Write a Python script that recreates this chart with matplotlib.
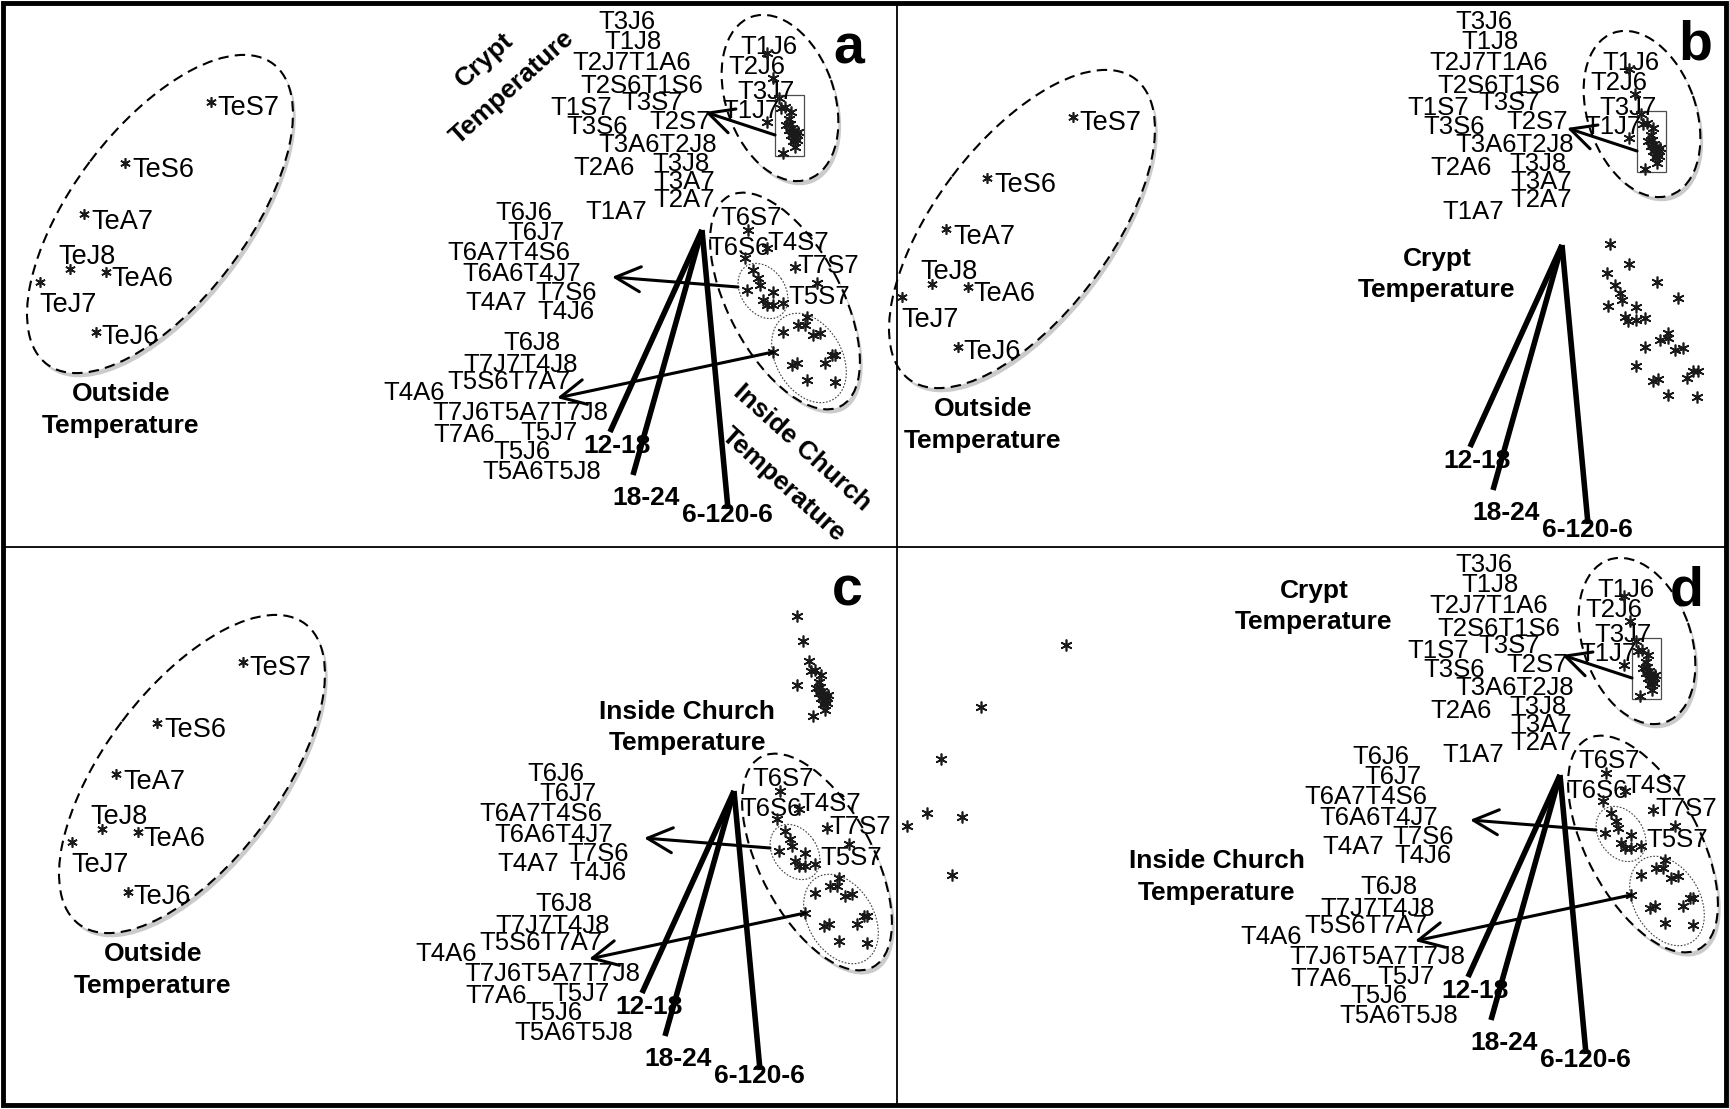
import matplotlib
matplotlib.use("Agg")
import matplotlib.pyplot as plt
import matplotlib.patheffects as pe
from matplotlib.patches import Ellipse, Rectangle

plt.rcParams['font.family'] = ['Liberation Sans', 'DejaVu Sans']

W, H = 1729, 1109
REG = 18.5
TE = 19.5
BOLD = 19

# ---- outside temperature scores (as placed in panel a, pixel coords)
te_names = ["TeS7", "TeS6", "TeA7", "TeJ8", "TeA6", "TeJ7", "TeJ6"]
te_x = [211, 125, 84, 70, 106, 40, 96]
te_y = [102, 163, 214, 269, 272, 282, 332]
te_lab_x = [217, 132, 91, 58, 111, 39, 101]
te_lab_y = [108, 170, 222, 257, 279, 305, 337]

# ---- crypt temperature labels (panel a)
crypt_names = ["T3J6", "T1J8", "T2J7T1A6", "T2S6T1S6", "T1S7", "T3S7", "T3S6", "T2S7",
               "T3A6T2J8", "T2A6", "T3J8", "T3A7", "T2A7", "T1A7"]
crypt_lab_x = [598, 604, 572, 580, 550, 621, 566, 649, 598, 573, 652, 653, 653, 585]
crypt_lab_y = [22, 42, 63, 86, 108, 103, 127, 122, 145, 168, 164, 182, 200, 212]

# crypt cluster (points + names inside the ellipse)
crypt_in_names = ["T1J6", "T2J6", "T3J7", "T1J7"]
crypt_in_x = [740, 728, 737, 722]
crypt_in_y = [47, 67, 92, 111]
crypt_x = [767, 773, 779, 781, 785, 791, 767, 786, 790, 789, 792, 794, 796, 798, 791,
           795, 793, 797, 795, 783, 789]
crypt_y = [53, 78, 98, 108, 107, 112, 122, 125, 124, 130, 128, 131, 134, 132, 135,
           138, 141, 140, 147, 153, 119]

# ---- inside church labels (panel a)
church_names = ["T6J6", "T6J7", "T6A7T4S6", "T6A6T4J7", "T4A7", "T7S6", "T4J6", "T6J8",
                "T7J7T4J8", "T5S6T7A7", "T4A6", "T7J6T5A7T7J8", "T7A6", "T5J7", "T5J6",
                "T5A6T5J8"]
church_lab_x = [495, 507, 447, 462, 465, 535, 537, 503, 463, 447, 383, 432, 433, 520, 493, 482]
church_lab_y = [213, 233, 253, 274, 303, 293, 312, 343, 365, 382, 393, 413, 435, 433, 452, 472]

church_in_names = ["T6S7", "T6S6", "T4S7", "T7S7", "T5S7"]
church_in_x = [720, 708, 767, 797, 788]
church_in_y = [218, 248, 243, 266, 297]
church_x = [753, 758, 760, 747, 773, 763, 767, 773, 783, 748, 745, 767, 795, 817,
            807, 798, 805, 783, 813, 820, 773, 832, 835, 792, 797, 825, 807, 835]
church_y = [270, 278, 285, 290, 292, 300, 305, 305, 303, 230, 258, 248, 267, 283,
            317, 325, 325, 332, 335, 333, 352, 355, 355, 365, 363, 363, 380, 382]

# ---- time-window vectors (panel a)
vec_names = ["12-18", "18-24", "6-120-6"]
vec_origin = (702, 230)
vec_end_x = [610, 633, 728]
vec_end_y = [432, 475, 509]
vec_lab_x = [617, 646, 727]
vec_lab_y = [446, 498, 515]

# ---- panel b: inside church scores alone
b_church_x = [1610, 1629, 1607, 1657, 1615, 1620, 1622, 1678, 1608, 1636, 1625, 1628, 1636, 1645,
              1668, 1660, 1668, 1645, 1675, 1683, 1636, 1653, 1658, 1687, 1693, 1698, 1668, 1697]
b_church_y = [244, 264, 273, 282, 285, 293, 300, 298, 306, 307, 317, 321, 320, 318,
              333, 340, 338, 347, 350, 348, 366, 381, 379, 378, 371, 371, 395, 397]

# ---- panels c/d: outside temperature scores alone
cd_te_x = [1066, 981, 941, 927, 962, 907, 952]
cd_te_y = [645, 707, 759, 813, 817, 826, 875]

# where each group sits in each panel
outside_pos = [(0, 0), (862, 15), (32, 560)]
crypt_lab_pos = [(0, 0), (857, 0), (857, 543)]
crypt_grp_pos = [(0, 0), (862, 16), (857, 543)]
church_lab_pos = [(0, 0), (32, 561), (857, 544)]
church_grp_pos = [(0, 0), (32, 561), (858, 543)]
vec_pos = [(0, 0), (860, 15), (32, 561), (858, 545)]
crypt_pts_only_pos = [(30, 563)]

fig = plt.figure(figsize=(W / 100, H / 100), dpi=100)
ax = fig.add_axes([0, 0, 1, 1])
ax.set_xlim(0, W)
ax.set_ylim(H, 0)
ax.axis('off')

shadow = [pe.SimplePatchShadow(offset=(2, -3), shadow_rgbFace='0.55', alpha=0.45), pe.Normal()]


def stars(xs, ys, dx=0, dy=0, ms=8.5):
    ax.plot([x + dx for x in xs], [y + dy for y in ys], ls='none', marker=(6, 2, 0),
            ms=ms, mew=1.2, color='0.1', zorder=4)


def names(ns, xs, ys, dx=0, dy=0, size=REG):
    for n, x, y in zip(ns, xs, ys):
        ax.text(x + dx, y + dy, n, fontsize=size, ha='left', va='center', zorder=3)


def big_ellipse(cx, cy, w, h, ang, dx, dy):
    e = Ellipse((cx + dx, cy + dy), w, h, angle=ang, facecolor='white', edgecolor='k',
                lw=1.5, ls=(0, (5, 3)), zorder=1)
    e.set_path_effects(shadow)
    ax.add_patch(e)


def small_ellipse(cx, cy, w, h, ang, dx, dy):
    ax.add_patch(Ellipse((cx + dx, cy + dy), w, h, angle=ang, fill=False, edgecolor='0.25',
                         lw=0.8, ls=(0, (1.5, 1.5)), zorder=2))


def arrow(sx, sy, tx, ty, dx, dy):
    ax.annotate('', xy=(tx + dx, ty + dy), xytext=(sx + dx, sy + dy),
                arrowprops=dict(arrowstyle='->,head_length=0.9,head_width=0.45', lw=2.2,
                                color='k', shrinkA=0, shrinkB=0, mutation_scale=20),
                zorder=5)


def bold(x, y, s, rot=0):
    ax.text(x, y, s, fontsize=BOLD, fontweight='bold', ha='center', va='center',
            rotation=rot, rotation_mode='anchor', zorder=3)


# outside group
for dx, dy in outside_pos:
    big_ellipse(160, 214, 376, 175, -53, dx, dy)
    stars(te_x, te_y, dx, dy, ms=7.5)
    names(te_names, te_lab_x, te_lab_y, dx, dy, size=TE)
    bold(121 + dx, 394 + dy, "Outside")
    bold(121 + dx, 426 + dy, "Temperature")

# crypt labels
for dx, dy in crypt_lab_pos:
    names(crypt_names, crypt_lab_x, crypt_lab_y, dx, dy)

# crypt cluster
for dx, dy in crypt_grp_pos:
    big_ellipse(780, 98, 172, 108, 70.7, dx, dy)
    ax.add_patch(Rectangle((775 + dx, 95 + dy), 29, 61, fill=False, edgecolor='0.3',
                           lw=0.9, zorder=2))
    stars(crypt_x, crypt_y, dx, dy)
    names(crypt_in_names, crypt_in_x, crypt_in_y, dx, dy)
    arrow(775, 135, 705, 112, dx, dy)

for dx, dy in crypt_pts_only_pos:
    stars(crypt_x, crypt_y, dx, dy)

# inside church labels
for dx, dy in church_lab_pos:
    names(church_names, church_lab_x, church_lab_y, dx, dy)

# inside church cluster
for dx, dy in church_grp_pos:
    big_ellipse(785, 301, 238, 113, 62, dx, dy)
    small_ellipse(763, 291, 60, 44, 55, dx, dy)
    small_ellipse(809, 358, 96, 66, 60, dx, dy)
    stars(church_x, church_y, dx, dy)
    names(church_in_names, church_in_x, church_in_y, dx, dy)
    arrow(738, 287, 612, 277, dx, dy)
    arrow(773, 352, 557, 398, dx, dy)

# vectors
for dx, dy in vec_pos:
    for ex, ey, n, lx, ly in zip(vec_end_x, vec_end_y, vec_names, vec_lab_x, vec_lab_y):
        ax.plot([vec_origin[0] + dx, ex + dx], [vec_origin[1] + dy, ey + dy], color='k',
                lw=4, solid_capstyle='butt', zorder=5)
        bold(lx + dx, ly + dy, n)

stars(b_church_x, b_church_y)
stars(cd_te_x, cd_te_y)

# group titles
bold(484, 60, "Crypt", rot=42)
bold(512, 87, "Temperature", rot=42)
bold(802, 448, "Inside Church", rot=-42)
bold(783, 485, "Temperature", rot=-42)
bold(1437, 259, "Crypt")
bold(1437, 290, "Temperature")
bold(687, 712, "Inside Church")
bold(688, 743, "Temperature")
bold(1314, 591, "Crypt")
bold(1314, 622, "Temperature")
bold(1217, 861, "Inside Church")
bold(1217, 893, "Temperature")

# panel letters
for s, x, y in [("a", 849, 50), ("b", 1695, 46), ("c", 847, 591), ("d", 1687, 592)]:
    ax.text(x, y, s, fontsize=40, fontweight='bold', ha='center', va='center', zorder=6)

# frame and dividers
ax.add_patch(Rectangle((3, 3), 1723, 1102, fill=False, edgecolor='k', lw=3.5, zorder=7))
ax.plot([897, 897], [3, 1105], color='k', lw=1.3, zorder=7)
ax.plot([3, 1726], [547, 547], color='k', lw=1.3, zorder=7)

fig.savefig("out.png", dpi=100)
